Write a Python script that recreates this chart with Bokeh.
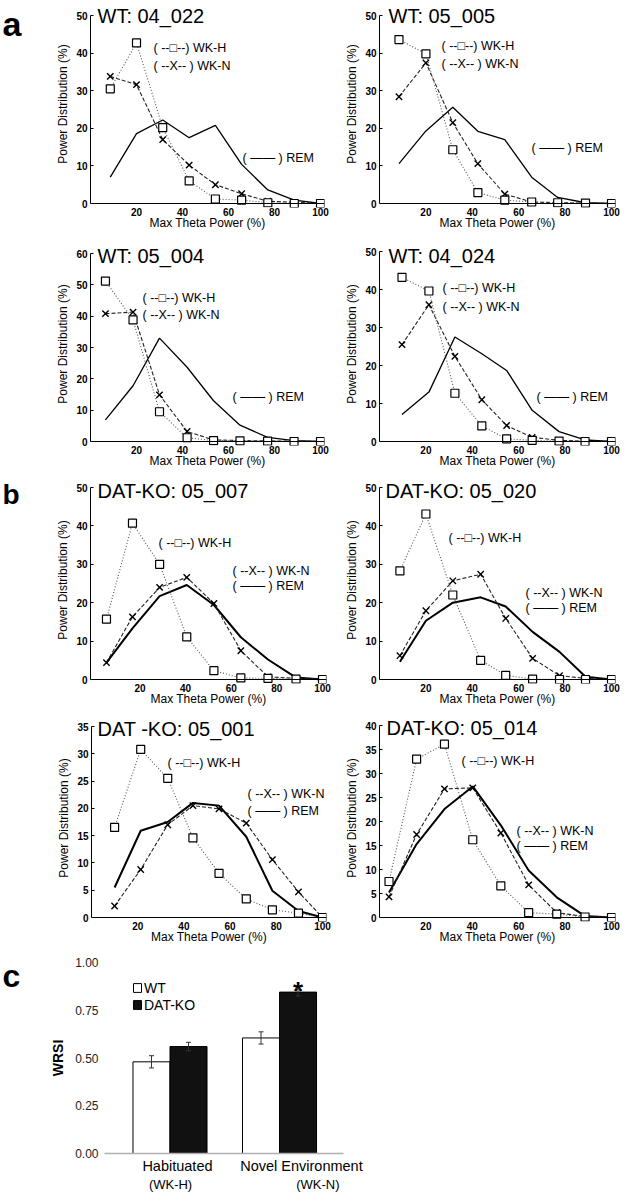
from bokeh.plotting import figure
from bokeh.layouts import column, row
from bokeh.models import (Label, FixedTicker, LinearAxis, Range1d, Whisker, TeeHead, Span,
                          ColumnDataSource, Legend, LegendItem, NumeralTickFormatter, Spacer)
from bokeh.embed import file_html
from bokeh.resources import INLINE

FONT = "Liberation Sans"

# ---------------- data ----------------
# (a) WT mice: power distribution (%) versus max theta power (%)
wt_04_022_x = [8.6, 20.0, 31.4, 42.9, 54.3, 65.7, 77.1, 88.6, 100.0]
wt_04_022_wkh = [30.5, 42.7, 20.2, 6.0, 1.2, 0.9, 0.2, 0.0, 0.0]
wt_04_022_wkn = [33.8, 31.6, 17.0, 10.2, 5.0, 2.6, 0.6, 0.3, 0.0]
wt_04_022_rem = [7.0, 18.6, 22.2, 17.5, 20.8, 10.4, 3.6, 0.9, 0.0]

wt_05_005_x = [8.4, 20.0, 31.6, 42.4, 54.0, 65.6, 76.8, 88.8, 100.0]
wt_05_005_wkh = [43.6, 39.8, 14.3, 2.9, 0.9, 0.4, 0.2, 0.1, 0.0]
wt_05_005_wkn = [28.4, 37.4, 21.5, 10.6, 2.5, 0.4, 0.2, 0.1, 0.0]
wt_05_005_rem = [10.6, 19.3, 25.6, 19.2, 17.0, 7.0, 1.6, 0.2, 0.0]

wt_05_004_x = [6.5, 18.5, 30.0, 42.0, 53.5, 65.0, 77.0, 88.5, 100.0]
wt_05_004_wkh = [51.2, 38.8, 9.5, 1.2, 0.3, 0.2, 0.1, 0.0, 0.0]
wt_05_004_wkn = [40.8, 41.3, 14.9, 3.2, 0.5, 0.3, 0.2, 0.1, 0.0]
wt_05_004_rem = [6.9, 17.8, 33.0, 23.7, 13.0, 5.2, 1.3, 0.3, 0.0]

wt_04_024_x = [9.7, 21.3, 32.5, 44.1, 54.8, 65.8, 77.4, 88.6, 100.0]
wt_04_024_wkh = [43.2, 39.6, 12.7, 4.1, 0.7, 0.3, 0.1, 0.0, 0.0]
wt_04_024_wkn = [25.5, 36.0, 22.4, 11.0, 4.2, 1.1, 0.3, 0.1, 0.0]
wt_04_024_rem = [7.1, 13.0, 27.5, 23.1, 18.7, 8.2, 2.6, 0.4, 0.0]

# (b) DAT-KO mice
ko_05_007_x = [5.3, 16.7, 28.6, 40.5, 52.4, 64.2, 76.1, 88.4, 100.0]
ko_05_007_wkh = [15.7, 40.7, 30.0, 11.1, 2.3, 0.4, 0.3, 0.1, 0.0]
ko_05_007_wkn = [4.4, 16.3, 24.0, 26.6, 19.8, 7.5, 0.7, 0.3, 0.0]
ko_05_007_rem = [4.4, 13.3, 21.7, 24.6, 19.4, 11.0, 5.2, 0.5, 0.0]

ko_05_020_x = [8.8, 20.0, 31.6, 43.6, 54.4, 66.0, 77.6, 88.8, 100.0]
ko_05_020_wkh = [28.3, 43.1, 22.0, 5.0, 1.1, 0.1, 0.0, 0.0, 0.0]
ko_05_020_wkn = [6.2, 17.9, 25.7, 27.4, 15.9, 5.5, 1.0, 0.3, 0.0]
ko_05_020_rem = [4.6, 15.3, 20.0, 21.4, 19.0, 12.4, 7.2, 0.7, 0.0]

ko_05_001_x = [10.0, 21.3, 33.0, 43.9, 55.2, 67.0, 78.3, 89.6, 100.0]
ko_05_001_wkh = [16.5, 30.8, 25.5, 14.6, 8.1, 3.4, 1.4, 0.8, 0.0]
ko_05_001_wkn = [2.1, 8.8, 17.0, 20.5, 19.9, 17.3, 10.6, 4.7, 0.0]
ko_05_001_rem = [5.5, 15.9, 17.5, 21.0, 20.5, 14.8, 4.9, 1.2, 0.0]

ko_05_014_x = [4.1, 16.0, 28.0, 40.2, 52.3, 64.3, 76.4, 88.6, 100.0]
ko_05_014_wkh = [7.5, 33.0, 36.1, 16.2, 6.6, 1.0, 0.7, 0.1, 0.0]
ko_05_014_wkn = [4.3, 17.3, 26.8, 27.0, 17.6, 6.8, 1.0, 0.2, 0.0]
ko_05_014_rem = [5.2, 15.3, 22.6, 27.3, 19.2, 9.8, 4.2, 0.3, 0.0]

x_ticks = [20, 40, 60, 80, 100]
y_ticks_50 = [0, 10, 20, 30, 40, 50]
y_ticks_60 = [0, 10, 20, 30, 40, 50, 60]
y_ticks_35 = [0, 5, 10, 15, 20, 25, 30, 35]
y_ticks_40 = [0, 5, 10, 15, 20, 25, 30, 35, 40]

# (c) WRSI
conditions = ["Habituated", "Novel Environment"]
condition_codes = ["(WK-H)", "(WK-N)"]
wrsi_wt = [0.48, 0.605]
wrsi_wt_sem = [0.032, 0.032]
wrsi_ko = [0.56, 0.845]
wrsi_ko_sem = [0.022, 0.02]
wrsi_ticks = [0.0, 0.25, 0.5, 0.75, 1.0]

LEG_H = "( --\u25a1--)  WK-H"
LEG_N = "( --X-- )  WK-N"
LEG_R = "( \u2014\u2014 ) REM"

PAD = 4
LETTER_W = 24
MID = 334
TOTAL_W = 626


def make_panel(title, x, wkh, wkn, rem, yticks, xr0, geom, fig, pos, rem_width):
    L, R100, T, B0 = geom            # page pixels of x=xr0, x=100, y=ymax, y=0
    fx0, fy0, fw, fh = fig
    ymax = yticks[-1]
    xs = (100 - xr0) / (R100 - L)
    ys = ymax / (B0 - T)
    p = figure(width=fw, height=fh,
               x_range=Range1d(xr0, 100 + PAD * xs),
               y_range=Range1d(-PAD * ys, ymax + (T - fy0) * ys),
               output_backend="svg", toolbar_location=None,
               min_border_left=L - fx0, min_border_right=fx0 + fw - (R100 + PAD),
               min_border_top=0, min_border_bottom=fy0 + fh - (B0 + PAD))
    p.outline_line_color = None
    p.xgrid.visible = False
    p.ygrid.visible = False

    def at(px, py):
        return xr0 + (px - L) * xs, ymax - (py - T) * ys

    xa = p.xaxis[0]
    ya = p.yaxis[0]
    ya.bounds = (0, ymax)
    xa.ticker = FixedTicker(ticks=x_ticks)
    ya.ticker = FixedTicker(ticks=yticks)
    for ax in (xa, ya):
        ax.major_tick_out = 0
        ax.minor_tick_line_color = None
        ax.major_label_text_font = FONT
        ax.major_label_text_font_size = "10px"
        ax.major_label_text_font_style = "bold"
        ax.major_label_text_color = "black"
        ax.axis_label_text_font = FONT
        ax.axis_label_text_font_size = "12px"
        ax.axis_label_text_font_style = "normal"
        ax.axis_label_text_color = "black"
    ya.major_tick_in = 3
    ya.axis_line_color = "black"
    ya.major_tick_line_color = "black"
    xa.major_tick_in = 0
    xa.axis_line_color = None
    xa.major_tick_line_color = None
    xa.axis_label = "Max Theta Power (%)"
    ya.axis_label = "Power Distribution (%)"
    xa.major_label_standoff = 0
    xa.axis_label_standoff = -3
    ya.major_label_standoff = 3
    ya.axis_label_standoff = 3
    # x axis line drawn at y = 0
    p.add_layout(Span(location=0, dimension="width", line_color="black", line_width=1))

    p.line(x, rem, line_color="black", line_width=rem_width)
    p.line(x, wkn, line_color="#222222", line_dash="4 2", line_width=1.1)
    p.scatter(x, wkn, marker="x", size=9, line_color="black", line_width=1.4)
    p.line(x, wkh, line_color="#555555", line_dash="1 2", line_width=1.1)
    p.scatter(x, wkh, marker="square", size=8, line_color="black",
              fill_color="white", line_width=1.2)

    tx, ty = at(*pos["title"])
    p.add_layout(Label(x=tx, y=ty, text=title, text_font=FONT, text_font_size="20px",
                       text_baseline="middle", text_align="left", text_color="black"))
    for key, txt in (("h", LEG_H), ("n", LEG_N), ("r", LEG_R)):
        lx, ly = at(*pos[key])
        p.add_layout(Label(x=lx, y=ly, text=txt, text_font=FONT, text_font_size="12.5px",
                           text_baseline="middle", text_align="left", text_color="black"))
    return p


def letter_box(ch, row_top, height, baseline, size):
    f = figure(width=LETTER_W, height=height, x_range=Range1d(0, LETTER_W),
               y_range=Range1d(0, height), output_backend="svg", toolbar_location=None,
               x_axis_type=None, y_axis_type=None, min_border=0)
    f.outline_line_color = None
    f.xgrid.visible = False
    f.ygrid.visible = False
    f.add_layout(Label(x=2, y=height - (baseline - row_top), text=ch, text_font=FONT,
                       text_font_size=size, text_font_style="bold",
                       text_baseline="alphabetic", text_align="left", text_color="black"))
    return f


LX = LETTER_W
LW, RW = MID - LX, TOTAL_W - MID
p1 = make_panel("WT: 04_022", wt_04_022_x, wt_04_022_wkh, wt_04_022_wkn, wt_04_022_rem,
                y_ticks_50, 0, (90, 320, 15, 203), (LX, 0, LW, 242),
                {"title": (97, 15), "h": (153, 47), "n": (153, 65), "r": (242, 157)}, 1.3)
p2 = make_panel("WT: 05_005", wt_05_005_x, wt_05_005_wkh, wt_05_005_wkn, wt_05_005_rem,
                y_ticks_50, 0, (379, 611, 15, 203), (MID, 0, RW, 242),
                {"title": (388, 15), "h": (441, 45), "n": (441, 63), "r": (531, 147)}, 1.3)
p3 = make_panel("WT: 05_004", wt_05_004_x, wt_05_004_wkh, wt_05_004_wkn, wt_05_004_rem,
                y_ticks_60, 0, (90, 320, 253, 441), (LX, 242, LW, 234),
                {"title": (97, 255), "h": (142, 297), "n": (142, 314), "r": (232, 396)}, 1.3)
p4 = make_panel("WT: 04_024", wt_04_024_x, wt_04_024_wkh, wt_04_024_wkn, wt_04_024_rem,
                y_ticks_50, 0, (379, 611, 251, 441), (MID, 242, RW, 234),
                {"title": (388, 255), "h": (442, 287), "n": (442, 306), "r": (536, 396)}, 1.3)
p5 = make_panel("DAT-KO: 05_007", ko_05_007_x, ko_05_007_wkh, ko_05_007_wkn, ko_05_007_rem,
                y_ticks_50, -1.7, (90, 322, 487, 679), (LX, 476, LW, 238),
                {"title": (97, 490), "h": (158, 542), "n": (232, 570), "r": (232, 585)}, 2.0)
p6 = make_panel("DAT-KO: 05_020", ko_05_020_x, ko_05_020_wkh, ko_05_020_wkn, ko_05_020_rem,
                y_ticks_50, 0, (379, 611, 487, 679), (MID, 476, RW, 238),
                {"title": (385, 490), "h": (448, 537), "n": (525, 592), "r": (525, 607)}, 2.0)
p7 = make_panel("DAT -KO: 05_001", ko_05_001_x, ko_05_001_wkh, ko_05_001_wkn, ko_05_001_rem,
                y_ticks_35, 0, (91, 322, 726, 917), (LX, 714, LW, 236),
                {"title": (97, 728), "h": (167, 762), "n": (247, 793), "r": (247, 810)}, 2.0)
p8 = make_panel("DAT-KO: 05_014", ko_05_014_x, ko_05_014_wkh, ko_05_014_wkn, ko_05_014_rem,
                y_ticks_40, 0, (379, 611, 725, 917), (MID, 714, RW, 236),
                {"title": (386, 727), "h": (461, 760), "n": (516, 830), "r": (516, 845)}, 2.0)

la = letter_box("a", 0, 242, 27, "34px")
lb = letter_box("b", 476, 238, 497, "28px")
lc = letter_box("c", 950, 249, 968, "32px")

# ---------------- panel c: WRSI bar chart ----------------
BAR_W = 0.338
OFF = 0.169
grp = list(range(len(conditions)))
pc = figure(width=TOTAL_W - LETTER_W, height=249, x_range=Range1d(-0.598, 1.584),
            y_range=Range1d(0, 1.0), output_backend="svg", toolbar_location=None,
            min_border_left=104 - LX, min_border_right=TOTAL_W - 343, min_border_top=12,
            min_border_bottom=46)
pc.outline_line_color = None
pc.xgrid.visible = False
pc.ygrid.visible = False

src_wt = ColumnDataSource(dict(x=[g - OFF for g in grp], top=wrsi_wt,
                               upper=[m + e for m, e in zip(wrsi_wt, wrsi_wt_sem)],
                               lower=[m - e for m, e in zip(wrsi_wt, wrsi_wt_sem)]))
src_ko = ColumnDataSource(dict(x=[g + OFF for g in grp], top=wrsi_ko,
                               upper=[m + e for m, e in zip(wrsi_ko, wrsi_ko_sem)],
                               lower=[m - e for m, e in zip(wrsi_ko, wrsi_ko_sem)]))
r_wt = pc.vbar(x="x", top="top", width=BAR_W, source=src_wt, fill_color="white",
               line_color="black", line_width=1)
r_ko = pc.vbar(x="x", top="top", width=BAR_W, source=src_ko, fill_color="#111111",
               line_color="black", line_width=1)
for src in (src_wt, src_ko):
    pc.add_layout(Whisker(source=src, base="x", upper="upper", lower="lower",
                          line_color="#333333", line_width=1, level="overlay",
                          upper_head=TeeHead(size=5, line_color="#333333", line_width=1),
                          lower_head=TeeHead(size=5, line_color="#333333", line_width=1)))

# significance star above DAT-KO novel environment bar
pc.add_layout(Label(x=grp[1] + OFF, y=0.853, text="*", text_font=FONT, text_font_size="26px",
                    text_font_style="bold", text_align="center", text_baseline="alphabetic",
                    text_color="black"))

ya = pc.yaxis[0]
ya.ticker = FixedTicker(ticks=wrsi_ticks)
ya.formatter = NumeralTickFormatter(format="0.00")
ya.axis_line_color = None
ya.major_tick_line_color = None
ya.minor_tick_line_color = None
ya.major_tick_out = 0
ya.major_tick_in = 0
ya.major_label_standoff = 6
ya.major_label_text_font = FONT
ya.major_label_text_font_size = "12px"
ya.major_label_text_color = "#222222"
ya.axis_label = "WRSI"
ya.axis_label_text_font = FONT
ya.axis_label_text_font_size = "14px"
ya.axis_label_text_font_style = "bold"
ya.axis_label_text_color = "black"
ya.axis_label_standoff = 6

xa = pc.xaxis[0]
xa.ticker = FixedTicker(ticks=[0.068, 1.2])
xa.major_label_overrides = {0.068: conditions[0], 1.2: conditions[1]}
xa.axis_line_color = "#b0b0b0"
xa.axis_line_width = 1.5
xa.major_tick_line_color = None
xa.minor_tick_line_color = None
xa.major_tick_out = 0
xa.major_tick_in = 0
xa.major_label_standoff = 4
xa.axis_label_standoff = 0
xa.major_label_text_font = FONT
xa.major_label_text_font_size = "14.5px"
xa.major_label_text_color = "black"

xa2 = LinearAxis(ticker=FixedTicker(ticks=[0.005, 1.35]),
                 major_label_overrides={0.005: condition_codes[0], 1.35: condition_codes[1]},
                 axis_line_color=None, major_tick_line_color=None, minor_tick_line_color=None,
                 major_tick_out=0, major_tick_in=0, axis_label_standoff=0,
                 major_label_standoff=0, major_label_text_font=FONT,
                 major_label_text_font_size="13px", major_label_text_color="black")
pc.add_layout(xa2, "below")

leg = Legend(items=[LegendItem(label="WT", renderers=[r_wt]),
                    LegendItem(label="DAT-KO", renderers=[r_ko])],
             location=(28, 140), padding=0, margin=0, spacing=0,
             glyph_width=10, glyph_height=11, label_height=17, label_standoff=2,
             label_text_font=FONT, label_text_font_size="14px", label_text_color="black",
             border_line_color=None, background_fill_alpha=0)
pc.add_layout(leg)

layout = column(row(la, p1, p2),
                row(Spacer(width=LETTER_W, height=234), p3, p4),
                row(lb, p5, p6),
                row(Spacer(width=LETTER_W, height=236), p7, p8),
                row(lc, pc))
open("out.html", "w").write(file_html(layout, INLINE))
